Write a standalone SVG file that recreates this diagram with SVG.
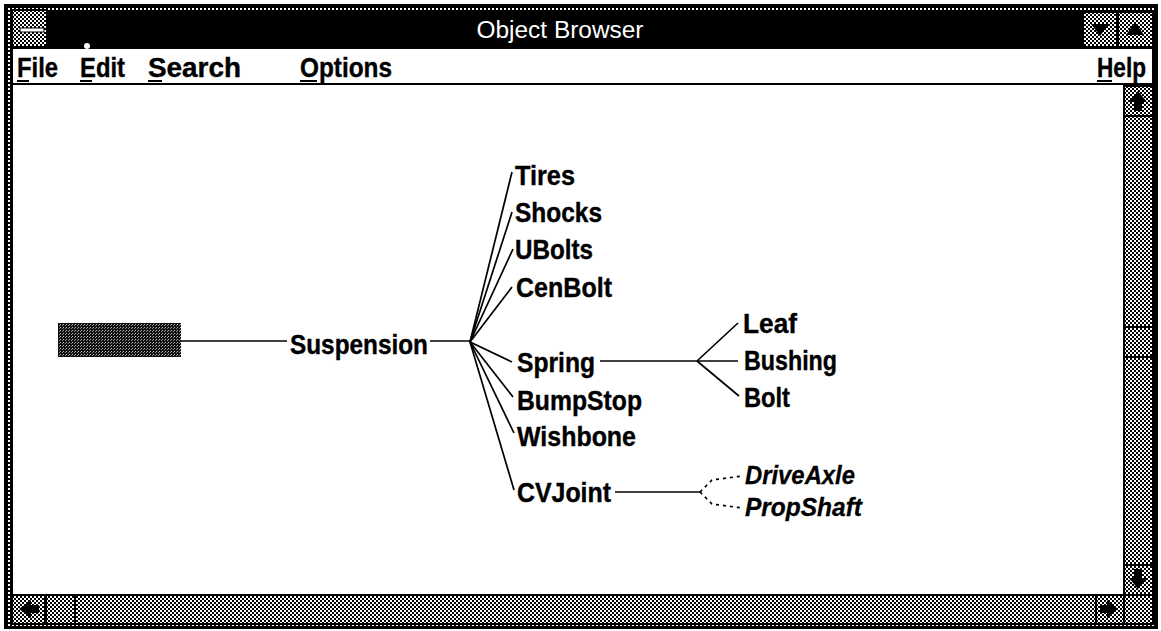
<svg xmlns="http://www.w3.org/2000/svg" width="1161" height="631" viewBox="0 0 1161 631">
  <style>
    .lbl { font-family: "Liberation Sans", Arial, sans-serif; font-weight: bold; font-size: 28px; fill: #000; stroke: #000; stroke-width: 0.4; }
    .ital { font-family: "Liberation Sans", Arial, sans-serif; font-weight: bold; font-style: italic; font-size: 25px; fill: #000; stroke: #000; stroke-width: 0.3; }
    .menu { font-family: "Liberation Sans", Arial, sans-serif; font-weight: bold; font-size: 27px; fill: #000; stroke: #000; stroke-width: 0.4; }
    .title { font-family: "Liberation Sans", Arial, sans-serif; font-size: 23px; fill: #fff; }
    .link { stroke: #000; stroke-width: 1.7; fill: none; }
    .dotted { stroke: #000; stroke-width: 1.7; fill: none; stroke-dasharray: 3 4; }
    .box { fill: url(#dither); stroke: #000; stroke-width: 2; }
    .arrow { fill: #000; }
  </style>
  <defs>
    <pattern id="dither" width="4" height="4" patternUnits="userSpaceOnUse">
      <rect width="4" height="4" fill="#fff"/>
      <rect width="2" height="2" fill="#000"/>
      <rect x="2" y="2" width="2" height="2" fill="#000"/>
    </pattern>
    <pattern id="darkdither" width="3" height="3" patternUnits="userSpaceOnUse">
      <rect width="3" height="3" fill="#111"/>
      <rect width="1" height="1" fill="#bbb"/>
      <rect x="2" y="1" width="1" height="1" fill="#888"/>
    </pattern>
    <pattern id="framedots" width="4" height="4" patternUnits="userSpaceOnUse">
      <rect width="4" height="4" fill="#000"/>
      <rect width="2" height="2" fill="#fff"/>
    </pattern>
  </defs>

  <rect width="1161" height="631" fill="#fff"/>

  <!-- window frame -->
  <g id="frame">
    <rect x="5" y="5" width="1152" height="623" fill="url(#framedots)" stroke="#000" stroke-width="2"/>
    <rect x="12" y="10" width="1141" height="38" fill="#000"/>
    <rect x="12" y="48" width="1141" height="576" fill="#fff" stroke="#000" stroke-width="2"/>
  </g>

  <!-- title bar -->
  <g id="titlebar">
    <rect x="12" y="10" width="35" height="37" class="box"/>
    <rect x="20" y="28" width="24" height="4" fill="#fff" stroke="#000" stroke-width="1"/>
    <rect x="1083" y="12" width="34" height="35" class="box"/>
    <polygon class="arrow" points="1091,24 1109,24 1100,36"/>
    <rect x="1118" y="12" width="35" height="35" class="box"/>
    <polygon class="arrow" points="1126,35 1144,35 1135,22"/>
    <text class="title" x="560" y="38" text-anchor="middle" textLength="167" lengthAdjust="spacingAndGlyphs">Object Browser</text>
    <circle cx="87" cy="46" r="3" fill="#fff"/>
  </g>

  <!-- menu bar -->
  <g id="menubar">
    <line x1="12" y1="84" x2="1153" y2="84" stroke="#000" stroke-width="2"/>
    <text class="menu" x="17" y="77" textLength="41" lengthAdjust="spacingAndGlyphs">File</text>
    <line x1="17" y1="81" x2="29" y2="81" stroke="#000" stroke-width="2"/>
    <text class="menu" x="80" y="77" textLength="45" lengthAdjust="spacingAndGlyphs">Edit</text>
    <line x1="80" y1="81" x2="92" y2="81" stroke="#000" stroke-width="2"/>
    <text class="menu" x="148" y="77" textLength="93" lengthAdjust="spacingAndGlyphs">Search</text>
    <line x1="148" y1="81" x2="162" y2="81" stroke="#000" stroke-width="2"/>
    <text class="menu" x="300" y="77" textLength="92" lengthAdjust="spacingAndGlyphs">Options</text>
    <line x1="300" y1="81" x2="317" y2="81" stroke="#000" stroke-width="2"/>
    <text class="menu" x="1097" y="77" textLength="49" lengthAdjust="spacingAndGlyphs">Help</text>
    <line x1="1097" y1="81" x2="1112" y2="81" stroke="#000" stroke-width="2"/>
  </g>

  <!-- vertical scroll bar -->
  <g id="vscroll">
    <rect x="1124" y="85" width="29" height="510" fill="url(#dither)" stroke="#000" stroke-width="2"/>
    <rect x="1124" y="86" width="29" height="30" class="box"/>
    <polygon class="arrow" points="1138,91 1147,102 1142,102 1142,111 1134,111 1134,102 1129,102"/>
    <rect x="1124" y="327" width="29" height="30" class="box"/>
    <rect x="1124" y="565" width="29" height="30" class="box"/>
    <polygon class="arrow" points="1138,589 1147,578 1142,578 1142,569 1134,569 1134,578 1129,578"/>
  </g>

  <!-- horizontal scroll bar -->
  <g id="hscroll">
    <rect x="12" y="595" width="1112" height="29" fill="url(#dither)" stroke="#000" stroke-width="2"/>
    <rect x="12" y="595" width="33" height="29" class="box"/>
    <polygon class="arrow" points="19,609 31,600 31,605 39,605 39,613 31,613 31,618"/>
    <rect x="46" y="595" width="29" height="29" class="box"/>
    <rect x="1096" y="595" width="28" height="29" class="box"/>
    <polygon class="arrow" points="1118,609 1107,600 1107,605 1100,605 1100,613 1107,613 1107,618"/>
    <rect x="1124" y="595" width="29" height="29" class="box"/>
  </g>

  <!-- connectors -->
  <g id="connectors">
    <line class="link" x1="181" y1="341" x2="287" y2="341"/>
    <line class="link" x1="430" y1="341" x2="470" y2="341"/>
    <line class="link" x1="470" y1="342" x2="512" y2="172"/>
    <line class="link" x1="470" y1="342" x2="512" y2="212"/>
    <line class="link" x1="470" y1="342" x2="513" y2="249"/>
    <line class="link" x1="470" y1="342" x2="512" y2="287"/>
    <line class="link" x1="470" y1="342" x2="512" y2="362"/>
    <line class="link" x1="470" y1="342" x2="513" y2="397"/>
    <line class="link" x1="470" y1="342" x2="514" y2="433"/>
    <line class="link" x1="470" y1="342" x2="514" y2="490"/>
    <line class="link" x1="600" y1="361" x2="697" y2="361"/>
    <line class="link" x1="697" y1="361" x2="738" y2="323"/>
    <line class="link" x1="697" y1="361" x2="738" y2="361"/>
    <line class="link" x1="697" y1="361" x2="739" y2="396"/>
    <line class="link" x1="615" y1="492" x2="700" y2="492"/>
    <path class="dotted" d="M700,492 L712,480 L742,476"/>
    <path class="dotted" d="M700,492 L712,504 L742,508"/>
  </g>

  <!-- nodes -->
  <g id="root"><rect x="58" y="323" width="123" height="34" fill="url(#darkdither)"/></g>
  <g id="suspension"><text class="lbl" x="290" y="354" textLength="138" lengthAdjust="spacingAndGlyphs">Suspension</text></g>
  <g id="tires"><text class="lbl" x="515" y="185" textLength="60" lengthAdjust="spacingAndGlyphs">Tires</text></g>
  <g id="shocks"><text class="lbl" x="515" y="222" textLength="87" lengthAdjust="spacingAndGlyphs">Shocks</text></g>
  <g id="ubolts"><text class="lbl" x="515" y="259" textLength="78" lengthAdjust="spacingAndGlyphs">UBolts</text></g>
  <g id="cenbolt"><text class="lbl" x="516" y="297" textLength="96" lengthAdjust="spacingAndGlyphs">CenBolt</text></g>
  <g id="spring"><text class="lbl" x="517" y="372" textLength="78" lengthAdjust="spacingAndGlyphs">Spring</text></g>
  <g id="bumpstop"><text class="lbl" x="517" y="410" textLength="125" lengthAdjust="spacingAndGlyphs">BumpStop</text></g>
  <g id="wishbone"><text class="lbl" x="517" y="446" textLength="119" lengthAdjust="spacingAndGlyphs">Wishbone</text></g>
  <g id="cvjoint"><text class="lbl" x="517" y="502" textLength="94" lengthAdjust="spacingAndGlyphs">CVJoint</text></g>
  <g id="leaf"><text class="lbl" x="743" y="333" textLength="54" lengthAdjust="spacingAndGlyphs">Leaf</text></g>
  <g id="bushing"><text class="lbl" x="744" y="370" textLength="93" lengthAdjust="spacingAndGlyphs">Bushing</text></g>
  <g id="bolt"><text class="lbl" x="744" y="407" textLength="46" lengthAdjust="spacingAndGlyphs">Bolt</text></g>
  <g id="driveaxle"><text class="ital" x="745" y="484" textLength="110" lengthAdjust="spacingAndGlyphs">DriveAxle</text></g>
  <g id="propshaft"><text class="ital" x="745" y="516" textLength="117" lengthAdjust="spacingAndGlyphs">PropShaft</text></g>
</svg>
